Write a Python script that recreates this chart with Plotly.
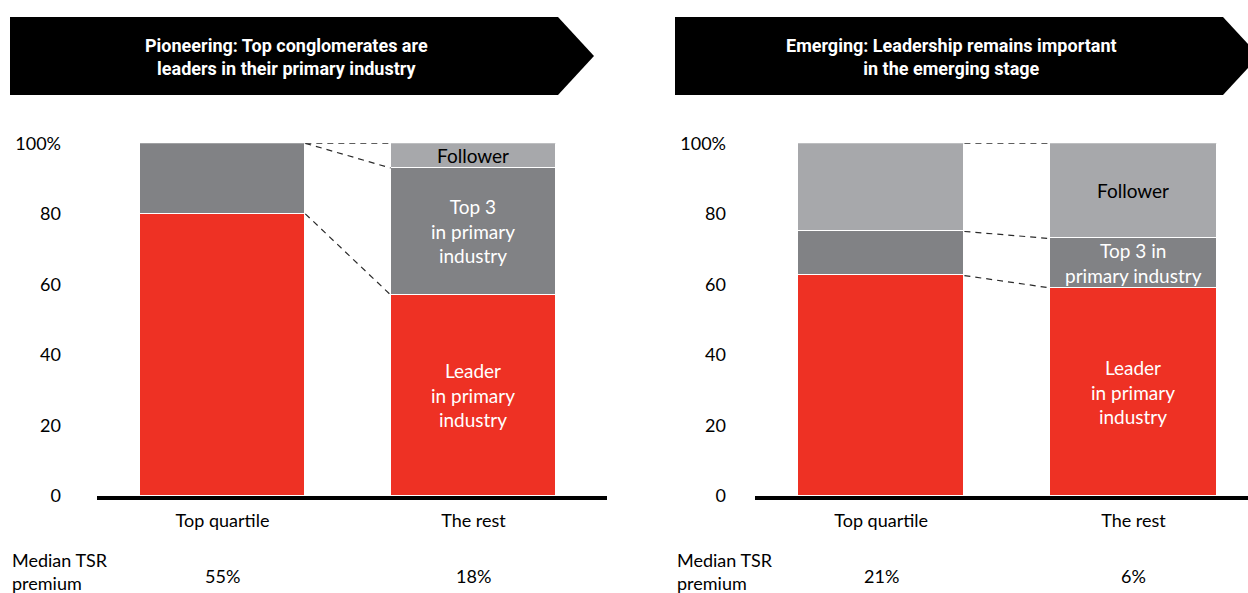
import plotly.graph_objects as go

# ---- data -------------------------------------------------------------
categories = ["Top quartile", "The rest"]
x_pos = [0, 1]

pioneer_leader = [80, 57]
pioneer_top3 = [20, 36]
pioneer_follower = [0, 7]

emerging_leader = [62.5, 59]
emerging_top3 = [12.5, 14]
emerging_follower = [25, 27]

pioneer_tsr = ["55%", "18%"]
emerging_tsr = ["21%", "6%"]

y_ticks = [0, 20, 40, 60, 80, 100]
y_tick_text = ["0", "20", "40", "60", "80", "100%"]

headers = [
    "Pioneering: Top conglomerates are<br>leaders in their primary industry",
    "Emerging: Leadership remains important<br>in the emerging stage",
]

pioneer_labels = ["Leader<br>in primary<br>industry", "Top 3<br>in primary<br>industry", "Follower"]
emerging_labels = ["Leader<br>in primary<br>industry", "Top 3 in<br>primary industry", "Follower"]

# ---- styling ----------------------------------------------------------
W, H = 1248, 593
RED = "#EE3124"
DARK_GREY = "#818285"
LIGHT_GREY = "#A7A8AB"
FONT = "Lato, 'Open Sans', sans-serif"
BAR_W = 0.66


def px(x):
    return x / W


def py(y):
    return (H - y) / H


fig = go.Figure()

panels = [
    dict(x="x", y="y", leader=pioneer_leader, top3=pioneer_top3, follower=pioneer_follower,
         labels=pioneer_labels, tsr=pioneer_tsr),
    dict(x="x2", y="y2", leader=emerging_leader, top3=emerging_top3, follower=emerging_follower,
         labels=emerging_labels, tsr=emerging_tsr),
]

annotations = []
shapes = []

for p in panels:
    for vals, col in ((p["leader"], RED), (p["top3"], DARK_GREY), (p["follower"], LIGHT_GREY)):
        fig.add_trace(go.Bar(
            x=x_pos, y=vals, width=BAR_W, marker=dict(color=col, line=dict(color="white", width=1)),
            xaxis=p["x"], yaxis=p["y"], showlegend=False, hoverinfo="skip",
        ))

    # segment labels on the second bar
    i = 1
    bottoms = [0, p["leader"][i], p["leader"][i] + p["top3"][i]]
    heights = [p["leader"][i], p["top3"][i], p["follower"][i]]
    colors = ["white", "white", "black"]
    for b, h, lab, c in zip(bottoms, heights, p["labels"], colors):
        annotations.append(dict(
            x=x_pos[i], y=b + h / 2, xref=p["x"], yref=p["y"], text=lab, showarrow=False,
            xanchor="center", yanchor="middle",
            font=dict(family=FONT, size=19, color=c), align="center",
        ))

    # dashed connectors between the bars
    x0 = x_pos[0] + BAR_W / 2
    x1 = x_pos[1] - BAR_W / 2
    lvl0 = [100, p["leader"][0] + p["top3"][0], p["leader"][0]]
    lvl1 = [100, p["leader"][1] + p["top3"][1], p["leader"][1]]
    seen = set()
    for a, b in zip(lvl0, lvl1):
        if (a, b) in seen:
            continue
        seen.add((a, b))
        shapes.append(dict(
            type="line", xref=p["x"], yref=p["y"], x0=x0, x1=x1, y0=a, y1=b,
            line=dict(color="#2a2a2a", width=1.2, dash="6px,5px"),
        ))

    # median TSR premium values
    for xi, t in zip(x_pos, p["tsr"]):
        annotations.append(dict(
            x=xi, y=py(576), xref=p["x"], yref="paper", text=t, showarrow=False,
            xanchor="center", yanchor="middle",
            font=dict(family=FONT, size=18, color="black"),
        ))

# row captions
for xl in (10, 675):
    annotations.append(dict(
        x=px(xl), y=py(571), xref="paper", yref="paper", text="Median TSR<br>premium",
        showarrow=False, xanchor="left", yanchor="middle", align="left",
        font=dict(family=FONT, size=18, color="black"),
    ))

# header arrows
for (left, right, tip), text in zip(((10, 558, 594), (675, 1223, 1259)), headers):
    top, bot, mid = 17, 95, 56
    path = (f"M {px(left)},{py(top)} L {px(right)},{py(top)} L {px(tip)},{py(mid)} "
            f"L {px(right)},{py(bot)} L {px(left)},{py(bot)} Z")
    shapes.append(dict(type="path", xref="paper", yref="paper", path=path,
                       fillcolor="black", line=dict(width=0)))
    annotations.append(dict(
        x=px((left + right) / 2 + 2), y=py(57), xref="paper", yref="paper", text=f"<b>{text}</b>",
        showarrow=False, font=dict(family="Roboto, sans-serif", size=18, color="white"),
        align="center", xanchor="center", yanchor="middle",
    ))

ydom = [py(496), py(143.3)]
axis_common = dict(
    tickvals=x_pos, ticktext=categories, showgrid=False, zeroline=False,
    showline=True, linecolor="black", linewidth=4, ticks="", fixedrange=True,
    tickfont=dict(family=FONT, size=18, color="black"), ticklabelstandoff=5,
    automargin=False,
)
yaxis_common = dict(
    range=[0, 100], tickvals=y_ticks, ticktext=y_tick_text, showgrid=False, zeroline=False,
    showline=False, ticks="", fixedrange=True, domain=ydom, automargin=False,
    tickfont=dict(family=FONT, size=18, color="black"),
)

fig.update_layout(
    width=W, height=H, margin=dict(l=0, r=0, t=0, b=0, pad=0), autosize=False,
    paper_bgcolor="white", plot_bgcolor="white", barmode="stack", bargap=0,
    xaxis=dict(domain=[px(97), px(607)], range=[-0.5, 1.532], anchor="y", **axis_common),
    yaxis=dict(anchor="x", ticklabelstandoff=35, **yaxis_common),
    xaxis2=dict(domain=[px(755), 1.0], range=[-0.5, 1.454], anchor="y2", **axis_common),
    yaxis2=dict(anchor="x2", ticklabelstandoff=28, **yaxis_common),
    shapes=shapes, annotations=annotations,
)

fig.write_html("out.html")
